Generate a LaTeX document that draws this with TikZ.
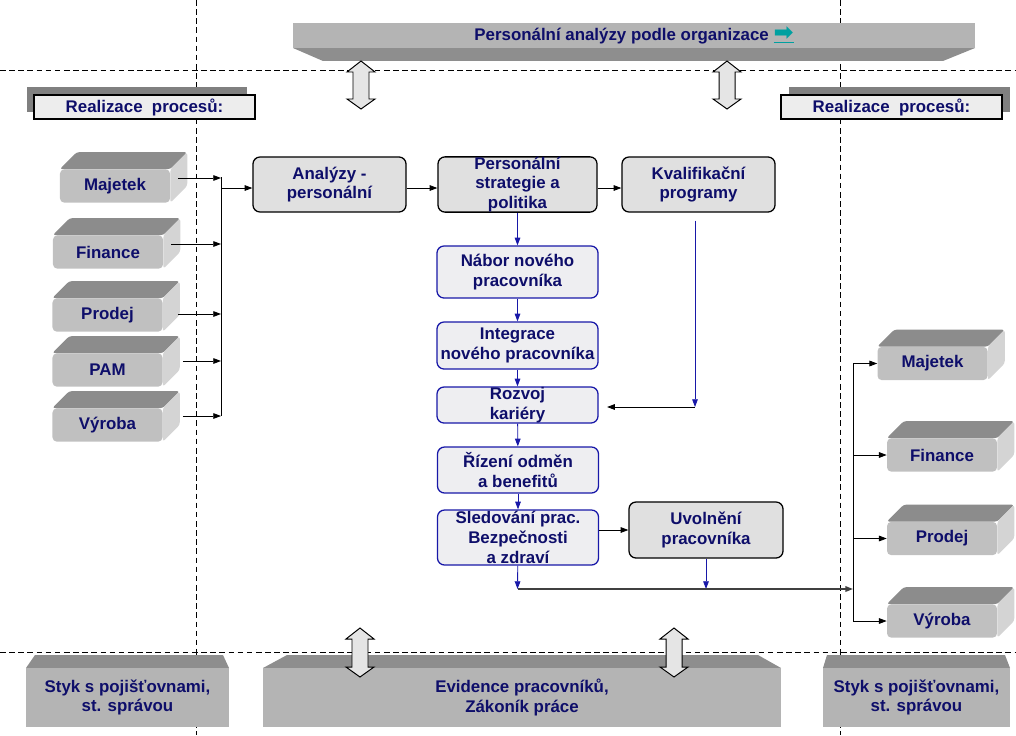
\documentclass[tikz,border=0pt]{standalone}
\usepackage{fontspec}
\setmainfont{Liberation Sans}
\newfontfamily\symfont{DejaVu Sans}
\usetikzlibrary{arrows.meta}

\definecolor{navytext}{RGB}{14,14,106}
\definecolor{flowblue}{RGB}{24,24,168}
\definecolor{linkteal}{RGB}{0,160,160}
\definecolor{slabtopgray}{RGB}{140,140,140}
\definecolor{slabfrontgray}{RGB}{192,192,192}
\definecolor{slabsidegray}{RGB}{212,212,212}
\definecolor{bandgray}{RGB}{180,180,180}
\definecolor{banddark}{RGB}{142,142,142}
\definecolor{shadowgray}{RGB}{128,128,128}
\definecolor{boxgray}{RGB}{224,224,224}
\definecolor{boxlight}{RGB}{238,238,241}

\tikzset{
	txt/.style={text=navytext, font=\bfseries\fontsize{12}{14}\selectfont, align=center},
	slab/.style={txt, fill=slabfrontgray, rounded corners=3pt, minimum width=2.75cm, minimum height=0.83cm, inner sep=0pt},
	graybox/.style={txt, draw=black, fill=boxgray, line width=0.9pt, rounded corners=5pt, minimum height=1.375cm, inner sep=0pt},
	bluebox/.style={txt, draw=flowblue, fill=boxlight, line width=0.9pt, rounded corners=5pt, minimum width=4.025cm, inner sep=0pt},
	realbox/.style={txt, draw=black, fill=black!7, line width=0.8pt, minimum width=5.525cm, minimum height=0.6cm, inner sep=0pt},
	band/.style={txt, fill=bandgray, inner sep=0pt},
	zoneline/.style={dashed, dash pattern=on 4pt off 2.5pt, line width=0.6pt},
	wire/.style={line width=0.6pt},
	arr/.style={wire, -{Triangle[length=5.5pt,width=4pt]}},
	flowarr/.style={arr, draw=flowblue},
	outarr/.style={line width=1.1pt, draw=black!75, -{Triangle[length=5.5pt,width=4pt]}},
	dblarr/.style={draw=black, fill=black!10, line width=0.7pt}
}

% front face as node, top and side faces behind it
\def\slab#1(#2)#3{%
	\node[slab] (#1) at (#2) {#3};
	\fill[slabtopgray, rounded corners=2pt] (#1.north west) -- ([shift={(17,-17)}]#1.north west) -- ([shift={(17,-17)}]#1.north east) -- (#1.north east) -- cycle;
	\fill[slabsidegray, rounded corners=2pt] (#1.north east) -- ([shift={(17,-17)}]#1.north east) -- ([shift={(17,-17)}]#1.south east) -- (#1.south east) -- cycle;
}
\def\dblarrow(#1,#2,#3){%
	\filldraw[dblarr] (#1,#2) -- (#1+14,#2+11) -- (#1+8,#2+11) -- (#1+8,#3-10) -- (#1+14,#3-10) -- (#1,#3) -- (#1-14,#3-10) -- (#1-8,#3-10) -- (#1-8,#2+11) -- (#1-14,#2+11) -- cycle;
}

\begin{document}
\begin{tikzpicture}[x=0.025cm,y=-0.025cm]
	%%%%% START %%%%%
	\useasboundingbox (0,0) rectangle (1016,735);

	\draw[zoneline] (0,70) -- (1016,70);
	\draw[zoneline] (0,652) -- (1016,652);
	\draw[zoneline] (196,0) -- (196,735);
	\draw[zoneline] (840,0) -- (840,735);

	% top band
	\fill[banddark] (293,48) -- (975,48) -- (943,61) -- (323,61) -- cycle;
	\node[band, minimum width=17.05cm, minimum height=0.625cm] (orgband) at (634,35.5) {Personální analýzy podle organizace {\color{linkteal}\underline{\symfont\fontsize{17}{14}\selectfont ➡}}};

	\fill[shadowgray] (27,87) rectangle (247,112);
	\node[realbox] (realL) at (144.5,107) {Realizace\ \ procesů:};
	\fill[shadowgray] (789,87) rectangle (1010,112);
	\node[realbox] (realR) at (891.5,107) {Realizace\ \ procesů:};

	% left side
	\slab{majL}(115,186){Majetek}
	\slab{finL}(108,252){Finance}
	\slab{proL}(107.5,315){Prodej}
	\slab{pamL}(107.5,370){PAM}
	\slab{vyrL}(107.5,425){Výroba}

	% right side
	\slab{majR}(932.5,363.5){Majetek}
	\slab{finR}(942,455){Finance}
	\slab{proR}(942,538.5){Prodej}
	\slab{vyrR}(942,621){Výroba}

	% main flow
	\node[graybox, minimum width=3.825cm] (analyzy) at (329.5,184.5) {Analýzy -\\personální};
	\node[graybox, minimum width=3.975cm] (strat) at (517.5,184.5) {Personální\\strategie a\\politika};
	\node[graybox, minimum width=3.825cm] (kval) at (698.5,184.5) {Kvalifikační\\programy};
	\node[bluebox, minimum height=1.3cm] (nabor) at (517.5,272) {Nábor nového\\pracovníka};
	\node[bluebox, minimum height=1.175cm] (integr) at (517.5,345.5) {Integrace\\nového pracovníka};
	\node[bluebox, minimum height=0.9cm] (rozvoj) at (517.5,405) {Rozvoj\\kariéry};
	\node[bluebox, minimum height=1.15cm] (rizeni) at (518,470) {Řízení odměn\\a benefitů};
	\node[bluebox, minimum height=1.375cm] (sled) at (518,537.5) {Sledování prac.\\Bezpečnosti\\a zdraví};
	\node[graybox, minimum width=3.85cm, minimum height=1.4cm] (uvol) at (706,530) {Uvolnění\\pracovníka};

	\coordinate (busLt) at (221,177);
	\coordinate (busLb) at (221,416);
	\draw[wire] (busLt) -- (busLb);
	\foreach \n/\dx/\dy in {majL/8/-8, finL/8/-8, proL/15/-1, pamL/20/-9, vyrL/20/-9}{
		\coordinate (src) at ([shift={(\dx,\dy)}]\n.east);
		\draw[arr] (src) -- (src -| busLt);
	}
	\draw[arr] ([yshift=-2.5pt]analyzy.west -| busLt) -- ([yshift=-2.5pt]analyzy.west);
	\draw[arr] ([yshift=-2.5pt]analyzy.east) -- ([yshift=-2.5pt]strat.west);
	\draw[arr] ([yshift=-2.5pt]strat.east) -- ([yshift=-2.5pt]kval.west);

	\draw[flowarr] (strat) -- (nabor);
	\draw[flowarr] (nabor) -- (integr);
	\draw[flowarr] (integr) -- (rozvoj);
	\draw[flowarr] (rozvoj) -- (rizeni);
	\draw[flowarr] (rizeni) -- (sled);
	\draw[arr] (sled.east |- uvol) -- (uvol);

	\coordinate (kvdrop) at (695,407);
	\draw[flowarr] ([shift={(-3.5,8)}]kval.south) -- (kvdrop);
	\draw[arr, shorten >=6pt] (kvdrop) -- (kvdrop -| rozvoj.east);

	\coordinate (outL) at (517.5,589);
	\coordinate (busRt) at (853,363.5);
	\coordinate (busRb) at (853,621);
	\draw[flowarr] (sled) -- (outL);
	\draw[flowarr] (uvol) -- (uvol |- outL);
	\draw[outarr] (outL) -- (outL -| busRt);
	\draw[wire] (busRt) -- (busRb);
	\foreach \n in {majR, finR, proR, vyrR}
		\draw[arr] (\n.west -| busRt) -- (\n.west);

	% bottom bands
	\fill[banddark] (35,655) -- (223,655) -- (229,668) -- (26,668) -- cycle;
	\node[band, minimum width=5.075cm, minimum height=1.475cm] (stykL) at (127.5,697.5) {Styk s pojišťovnami,\\st. správou};
	\fill[banddark] (287,655) -- (758,655) -- (781,668) -- (263,668) -- cycle;
	\node[band, minimum width=12.95cm, minimum height=1.475cm] (evid) at (522,697.5) {Evidence pracovníků,\\Zákoník práce};
	\fill[banddark] (827,655) -- (1005,655) -- (1010,668) -- (823,668) -- cycle;
	\node[band, minimum width=4.675cm, minimum height=1.475cm] (stykR) at (916.5,697.5) {Styk s pojišťovnami,\\st. správou};

	\dblarrow(361,61,109)
	\dblarrow(727,61,109)
	\dblarrow(360,628,677)
	\dblarrow(674,628,677)

	%%%%% END %%%%%
\end{tikzpicture}
\end{document}
